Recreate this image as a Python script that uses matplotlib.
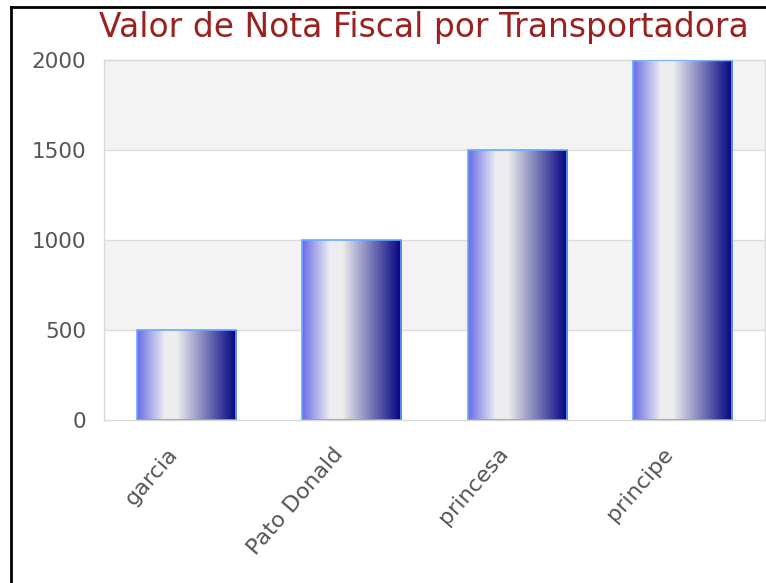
import matplotlib
matplotlib.use("Agg")
import matplotlib.pyplot as plt
import matplotlib.transforms as mtransforms
import numpy as np
from matplotlib.colors import LinearSegmentedColormap
from matplotlib.lines import Line2D

categories = ["garcia", "Pato Donald", "princesa", "principe"]
values = [500, 1000, 1500, 2000]
yticks = [0, 500, 1000, 1500, 2000]
title = "Valor de Nota Fiscal por Transportadora"

plt.rcParams['font.family'] = ['DejaVu Sans']

fig = plt.figure(figsize=(7.66, 5.83), dpi=100)
ax = fig.add_axes([104/766, 1-420/583, (765-104)/766, (420-60)/583])

cmap = LinearSegmentedColormap.from_list("barg", [
    (0.0, (0.42, 0.42, 0.90)),
    (0.28, (0.93, 0.93, 0.95)),
    (0.40, (0.93, 0.93, 0.93)),
    (1.0, (0.0, 0.0, 0.50)),
])
grad = np.linspace(0, 1, 256).reshape(1, -1)

bw = 0.6
x = np.arange(len(categories))

# alternating bands
for i in range(len(yticks) - 1):
    if i % 2 == 1:
        ax.axhspan(yticks[i], yticks[i+1], color="#f3f3f3", zorder=0, lw=0)
for t in yticks[1:-1]:
    ax.axhline(t, color="#dcdcdc", lw=1, zorder=1)

for xi, v in zip(x, values):
    ax.imshow(grad, cmap=cmap, aspect="auto",
              extent=(xi - bw/2, xi + bw/2, 0, v), zorder=2, interpolation="bilinear")
    ax.bar(xi, v, width=bw, facecolor="none", edgecolor="#66aaff", lw=1.2, zorder=3)

ax.set_xlim(-0.5, len(categories) - 0.5)
ax.set_ylim(0, 2000)

for s in ax.spines.values():
    s.set_color("#d8d8d8")
    s.set_linewidth(1)

ax.set_yticks(yticks)
ax.set_yticklabels([str(t) for t in yticks], fontsize=15.5, color="#555555")
ax.set_xticks(x)
ax.set_xticklabels(categories, fontsize=16, color="#555555", rotation=49,
                   ha="right", rotation_mode="anchor")
ax.tick_params(axis="both", length=0)
ax.tick_params(axis="y", pad=13)
ax.tick_params(axis="x", pad=17)
offset = mtransforms.ScaledTranslation(-20/100, 0, fig.dpi_scale_trans)
for lbl in ax.get_xticklabels():
    lbl.set_transform(lbl.get_transform() + offset)

fig.text(424/766, 1-27/583, title, ha="center", va="center", fontsize=23.7, color="#9b2020")

# outer border (left and top visible)
fig.add_artist(Line2D([11/766, 11/766], [0, 1-7/583], color="black", lw=2, transform=fig.transFigure))
fig.add_artist(Line2D([11/766, 1], [1-7/583, 1-7/583], color="black", lw=2, transform=fig.transFigure))

fig.savefig("out.png", dpi=100)
